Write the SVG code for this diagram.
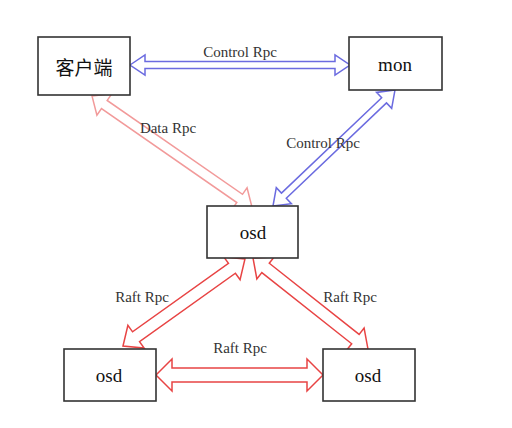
<svg xmlns="http://www.w3.org/2000/svg" width="512" height="428" viewBox="0 0 512 428">
<style>
.box{fill:#fff;stroke:#333;stroke-width:1.6}
.nt{font-family:"Liberation Serif",serif;font-size:19px;fill:#111;text-anchor:middle}
.cn{font-family:"Noto Sans CJK SC","Noto Sans",sans-serif;font-size:19px;fill:#111;text-anchor:middle}
.lb{font-family:"Liberation Serif",serif;font-size:15px;fill:#333;text-anchor:middle}
.ctl{fill:#fff;stroke:#6b6be0;stroke-width:1.5;stroke-linejoin:miter}
.dat{fill:#fff;stroke:#f29a9a;stroke-width:1.5}
.raft{fill:#fff;stroke:#e84444;stroke-width:1.5}
</style>
<rect width="512" height="428" fill="#fff"/>
<g id="connectors">
<polygon class="ctl" transform="translate(130,65)" points="0,0 15,-10 15,-3.5 205,-3.5 205,-10 220,0 205,10 205,3.5 15,3.5 15,10"/>
<polygon class="ctl" transform="translate(273,206) rotate(-43.56)" points="0,0 15,-11 15,-3.5 153.3,-3.5 153.3,-11 168.3,0 153.3,11 153.3,3.5 15,3.5 15,11"/>
<polygon class="dat" transform="translate(92,96) rotate(34.75)" points="0,0 15,-13 15,-5 179.7,-5 179.7,-13 194.7,0 179.7,13 179.7,5 15,5 15,13"/>
<polygon class="raft" transform="translate(123,346) rotate(-35.49)" points="0,0 16,-14 16,-6 133.8,-6 133.8,-14 149.8,0 133.8,14 133.8,6 16,6 16,14"/>
<polygon class="raft" transform="translate(253,258) rotate(38.36)" points="0,0 16,-14 16,-6 130.6,-6 130.6,-14 146.6,0 130.6,14 130.6,6 16,6 16,14"/>
<polygon class="raft" transform="translate(156,375)" points="0,0 16,-16 16,-7 151,-7 151,-16 167,0 151,16 151,7 16,7 16,16"/>
<text class="lb" x="240" y="57">Control Rpc</text>
<text class="lb" x="168" y="133">Data Rpc</text>
<text class="lb" x="323" y="148">Control Rpc</text>
<text class="lb" x="142" y="302">Raft Rpc</text>
<text class="lb" x="350" y="302">Raft Rpc</text>
<text class="lb" x="240" y="353">Raft Rpc</text>
</g>
<g id="client">
<rect class="box" x="38" y="37" width="92" height="58"/>
<text class="cn" x="84" y="75">客户端</text>
</g>
<g id="mon">
<rect class="box" x="349" y="37" width="93" height="53"/>
<text class="nt" x="395" y="71">mon</text>
</g>
<g id="osd-center">
<rect class="box" x="207" y="206" width="91" height="52"/>
<text class="nt" x="253" y="239">osd</text>
</g>
<g id="osd-left">
<rect class="box" x="64" y="349" width="92" height="52"/>
<text class="nt" x="109" y="382">osd</text>
</g>
<g id="osd-right">
<rect class="box" x="323" y="349" width="92" height="52"/>
<text class="nt" x="368" y="382">osd</text>
</g>
</svg>
